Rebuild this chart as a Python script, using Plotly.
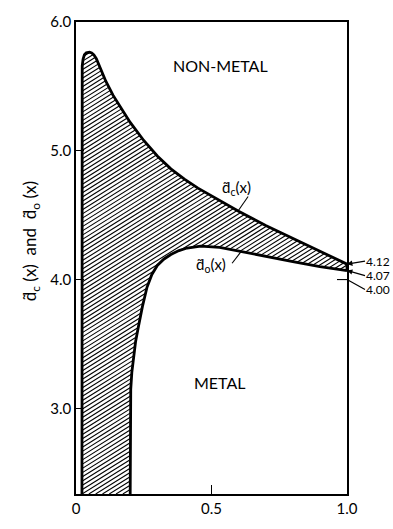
import numpy as np
import plotly.graph_objects as go

# Upper boundary d_c(x) of the hatched band (non-metal side)
dc_x = [0.022, 0.022, 0.023, 0.026, 0.031, 0.038, 0.050, 0.058, 0.066, 0.075,
        0.090, 0.110, 0.137, 0.170, 0.200, 0.250, 0.300, 0.350, 0.400, 0.450,
        0.500, 0.600, 0.700, 0.800, 0.900, 1.000]
dc_y = [2.335, 5.60, 5.66, 5.71, 5.745, 5.76, 5.765, 5.76, 5.745, 5.715,
        5.64, 5.54, 5.43, 5.32, 5.22, 5.08, 4.96, 4.86, 4.78, 4.71,
        4.65, 4.53, 4.42, 4.32, 4.22, 4.12]

# Lower boundary d_o(x) of the hatched band (metal side)
do_x = [0.200, 0.200, 0.202, 0.206, 0.213, 0.220, 0.229, 0.245, 0.262, 0.280,
        0.300, 0.325, 0.350, 0.380, 0.410, 0.460, 0.530, 0.600, 0.700, 0.800,
        0.900, 1.000]
do_y = [2.335, 3.00, 3.15, 3.28, 3.42, 3.52, 3.62, 3.79, 3.94, 4.04,
        4.11, 4.16, 4.195, 4.225, 4.245, 4.26, 4.25, 4.22, 4.18, 4.14,
        4.10, 4.07]

# End values marked at x = 1
end_vals = [4.12, 4.07, 4.00]
end_text = ["4.12", "4.07", "4.00"]

x_ticks = [0, 0.5, 1.0]
x_ticktext = ["0", "0.5", "1.0"]
y_ticks = [3.0, 4.0, 5.0, 6.0]
y_ticktext = ["3.0", "4.0", "5.0", "6.0"]

Y_MIN, Y_MAX = 2.335, 6.0
FONT = "Lato"

# plot-area geometry in pixels (used for the hatch angle and spacing)
W, H = 393, 529
ML, MR, MT, MB = 76, 46, 13, 25
PW, PH = W - ML - MR, H - MT - MB
px_per_x = PW / 1.0
px_per_y = PH / (Y_MAX - Y_MIN)


def upper(x):
    return np.interp(x, dc_x[1:], dc_y[1:])


def lower(x):
    lo = np.interp(x, do_x[1:], do_y[1:])
    return np.where(x < do_x[0], Y_MIN, lo)


# Diagonal hatching clipped to the band between the two curves
angle = np.deg2rad(33)
slope = np.tan(angle) * px_per_x / px_per_y
step = (3.7 / np.cos(angle)) / px_per_y
xs = np.linspace(dc_x[0], 1.0, 3000)
hx, hy = [], []
b = Y_MIN - slope * 1.0
while b < max(dc_y):
    ys = slope * xs + b
    inside = (ys > lower(xs)) & (ys < upper(xs)) & (ys > Y_MIN)
    if inside.any():
        d = np.diff(inside.astype(int))
        starts = list(np.where(d == 1)[0] + 1)
        ends = list(np.where(d == -1)[0])
        if inside[0]:
            starts = [0] + starts
        if inside[-1]:
            ends = ends + [len(xs) - 1]
        for s, e in zip(starts, ends):
            hx += [xs[s], xs[e], None]
            hy += [ys[s], ys[e], None]
    b += step

fig = go.Figure()
fig.add_trace(go.Scatter(x=hx, y=hy, mode="lines",
                         line=dict(color="black", width=1.1),
                         hoverinfo="skip", showlegend=False))

# the two boundary curves, with the short closing piece at x = 1
fig.add_trace(go.Scatter(x=dc_x, y=dc_y, mode="lines",
                         line=dict(color="black", width=2.8), showlegend=False))
fig.add_trace(go.Scatter(x=do_x, y=do_y, mode="lines",
                         line=dict(color="black", width=2.8), showlegend=False))
fig.add_trace(go.Scatter(x=[dc_x[-1], do_x[-1]], y=[dc_y[-1], do_y[-1]], mode="lines",
                         line=dict(color="black", width=2.8), showlegend=False))

annotations = [
    dict(x=0.535, y=5.66, text="NON-METAL", showarrow=False,
         font=dict(family=FONT, size=16, color="black")),
    dict(x=0.531, y=3.20, text="METAL", showarrow=False,
         font=dict(family=FONT, size=16, color="black")),
    dict(x=0.594, y=4.71, text="d\u0303<sub>c</sub>(x)", showarrow=False,
         font=dict(family=FONT, size=15, color="black")),
    dict(x=0.498, y=4.115, text="d\u0303<sub>o</sub>(x)", showarrow=False,
         font=dict(family=FONT, size=15, color="black")),
    dict(xref="paper", yref="paper", x=-0.215, y=0.535, textangle=-90,
         text="d\u0303<sub>c</sub> (x)  and  d\u0303<sub>o</sub> (x)", showarrow=False,
         font=dict(family=FONT, size=17, color="black")),
]
offsets = [(18, -3), (18, 5), (18, 10)]
heads = [2, 2, 0]
for v, t, (ax, ay), hd in zip(end_vals, end_text, offsets, heads):
    annotations.append(dict(x=1.0, y=v, text=t, showarrow=True, ax=ax, ay=ay,
                            xanchor="left", arrowhead=hd, arrowsize=0.9,
                            arrowwidth=1.2, arrowcolor="black", standoff=0,
                            borderpad=0,
                            font=dict(family=FONT, size=12, color="black")))
fig.update_layout(annotations=annotations)

# leader lines from the curve labels to the curves
shape_line = dict(color="black", width=1.1)
fig.add_shape(type="line", x0=0.635, y0=4.645, x1=0.598, y1=float(upper(0.598)), line=shape_line)
fig.add_shape(type="line", x0=0.576, y0=4.127, x1=0.609, y1=float(lower(0.609)), line=shape_line)
# tick at 4.00 on the right frame
fig.add_shape(type="line", x0=0.963, y0=end_vals[2], x1=1.0, y1=end_vals[2], line=shape_line)

fig.update_xaxes(range=[0, 1], tickvals=x_ticks, ticktext=x_ticktext,
                 ticks="inside", ticklen=9, tickwidth=1.2, tickcolor="black",
                 showline=True, linecolor="black", linewidth=1.5, mirror=True,
                 showgrid=False, zeroline=False,
                 tickfont=dict(family=FONT, size=15, color="black"))
fig.update_yaxes(range=[Y_MIN, Y_MAX], tickvals=y_ticks, ticktext=y_ticktext,
                 ticks="inside", ticklen=8, tickwidth=1.2, tickcolor="black",
                 showline=True, linecolor="black", linewidth=1.5, mirror=True,
                 showgrid=False, zeroline=False,
                 tickfont=dict(family=FONT, size=15, color="black"))

fig.update_layout(width=W, height=H, margin=dict(l=ML, r=MR, t=MT, b=MB),
                  paper_bgcolor="white", plot_bgcolor="white",
                  showlegend=False)

fig.write_html("out.html")
